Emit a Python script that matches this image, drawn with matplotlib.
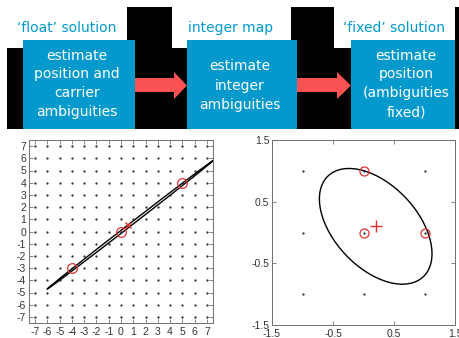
import numpy as np
import matplotlib
matplotlib.use("Agg")
import matplotlib.pyplot as plt
from matplotlib.patches import Rectangle, Polygon, Ellipse

plt.rcParams["axes.unicode_minus"] = False

W, H = 460, 338

# flow diagram text
stage_titles = ["\u2018float\u2019 solution", "integer map", "\u2018fixed\u2019 solution"]
stage_lines = [["estimate", "position and", "carrier", "ambiguities"],
               ["estimate", "integer", "ambiguities"],
               ["estimate", "position", "(ambiguities", "fixed)"]]

# left panel: integer grid, candidates, float solution, thin search ellipse
grid_a = np.arange(-7, 8)
cand_a_x = [-4, 0, 5]
cand_a_y = [-3, 0, 4]
float_a_x, float_a_y = 0.6, 0.5
ell_a_center = (0.75, 0.55)
ell_a_axes = (17.2, 0.2)
ell_a_angle = 37.9

# right panel
grid_b = [-1, 0, 1]
cand_b_x = [0, 0, 1]
cand_b_y = [1, 0, 0]
float_b_x, float_b_y = 0.2, 0.1
ell_b_axes = (2.26, 1.35)
ell_b_angle = -46
ticks_b = [-1.5, -0.5, 0.5, 1.5]

BLUE = "#0399cc"
RED = "#fa5252"
CRED = "#e03232"

fig = plt.figure(figsize=(W / 100, H / 100), dpi=100)

# ---- top diagram, drawn in pixel coordinates ----
ax0 = fig.add_axes([0, 0, 1, 1])
ax0.set_xlim(0, W)
ax0.set_ylim(H, 0)
ax0.axis("off")

black = [(7, 48, 453, 81), (127, 7, 45, 41), (291, 7, 43, 41), (455, 7, 5, 41)]
for x, y, w, h in black:
    ax0.add_patch(Rectangle((x, y), w, h, color="black", lw=0))

boxes = [(23, 135), (187, 297), (351, 455)]
for x0, x1 in boxes:
    ax0.add_patch(Rectangle((x0, 40), x1 - x0, 89, color=BLUE, lw=0))

for x0, x1, x2 in [(135, 174, 187), (297, 337, 351)]:
    ax0.add_patch(Polygon([(x0, 78), (x1, 78), (x1, 72), (x2, 85.5),
                           (x1, 99), (x1, 92), (x0, 92)], closed=True,
                          color=RED, lw=0))

title_x = [17, 188, 343]
for tx, t in zip(title_x, stage_titles):
    ax0.text(tx, 28, t, color=BLUE, fontsize=10, family="DejaVu Sans",
             ha="left", va="center")

text_cx = [77, 240, 406]
line_y = [[56, 74, 93, 112], [66, 86, 105], [56, 74, 93, 112]]
for cx, lines, ys in zip(text_cx, stage_lines, line_y):
    for s, y in zip(lines, ys):
        ax0.text(cx, y, s, color="white", fontsize=10, family="DejaVu Sans",
                 ha="center", va="center")


def style(ax):
    for sp in ax.spines.values():
        sp.set_color("#707070")
        sp.set_linewidth(0.7)
    ax.tick_params(direction="in", top=True, right=True, length=3, width=0.6,
                   color="#707070", labelcolor="#333333", labelsize=7.5, pad=2)
    ax.tick_params(axis="x", pad=3)
    for lab in ax.get_xticklabels() + ax.get_yticklabels():
        lab.set_family("Liberation Sans")


# ---- left panel ----
ax1 = fig.add_axes([29 / W, (H - 323) / H, 184 / W, 183 / H])
gx, gy = np.meshgrid(grid_a, grid_a)
ax1.plot(gx.ravel(), gy.ravel(), ".", color="#222222", ms=1.2)
ax1.add_patch(Ellipse(ell_a_center, ell_a_axes[0], ell_a_axes[1], angle=ell_a_angle,
                      fill=False, ec="black", lw=1.0))
ax1.plot(cand_a_x, cand_a_y, "o", mfc="none", mec=CRED, ms=7, mew=0.9)
ax1.plot(float_a_x, float_a_y, "x", color=CRED, ms=5, mew=1.0)
ax1.set_xlim(-7.5, 7.5)
ax1.set_ylim(-7.5, 7.5)
ax1.set_xticks(grid_a)
ax1.set_yticks(grid_a)
style(ax1)

# ---- right panel ----
ax2 = fig.add_axes([272 / W, (H - 325) / H, 183 / W, 185 / H])
hx, hy = np.meshgrid(grid_b, grid_b)
ax2.plot(hx.ravel(), hy.ravel(), ".", color="#222222", ms=1.2)
ax2.add_patch(Ellipse((float_b_x, float_b_y), ell_b_axes[0], ell_b_axes[1],
                      angle=ell_b_angle, fill=False, ec="black", lw=1.0))
ax2.plot(cand_b_x, cand_b_y, "o", mfc="none", mec=CRED, ms=6.5, mew=0.9)
ax2.plot(float_b_x, float_b_y, "+", color=CRED, ms=8, mew=1.0)
ax2.set_xlim(-1.5, 1.5)
ax2.set_ylim(-1.5, 1.5)
ax2.set_xticks(ticks_b)
ax2.set_yticks(ticks_b)
ax2.set_xticklabels(["-1.5", "-0.5", "0.5", "1.5"])
ax2.set_yticklabels(["-1.5", "-0.5", "0.5", "1.5"])
style(ax2)

fig.savefig("out.png", dpi=100)
